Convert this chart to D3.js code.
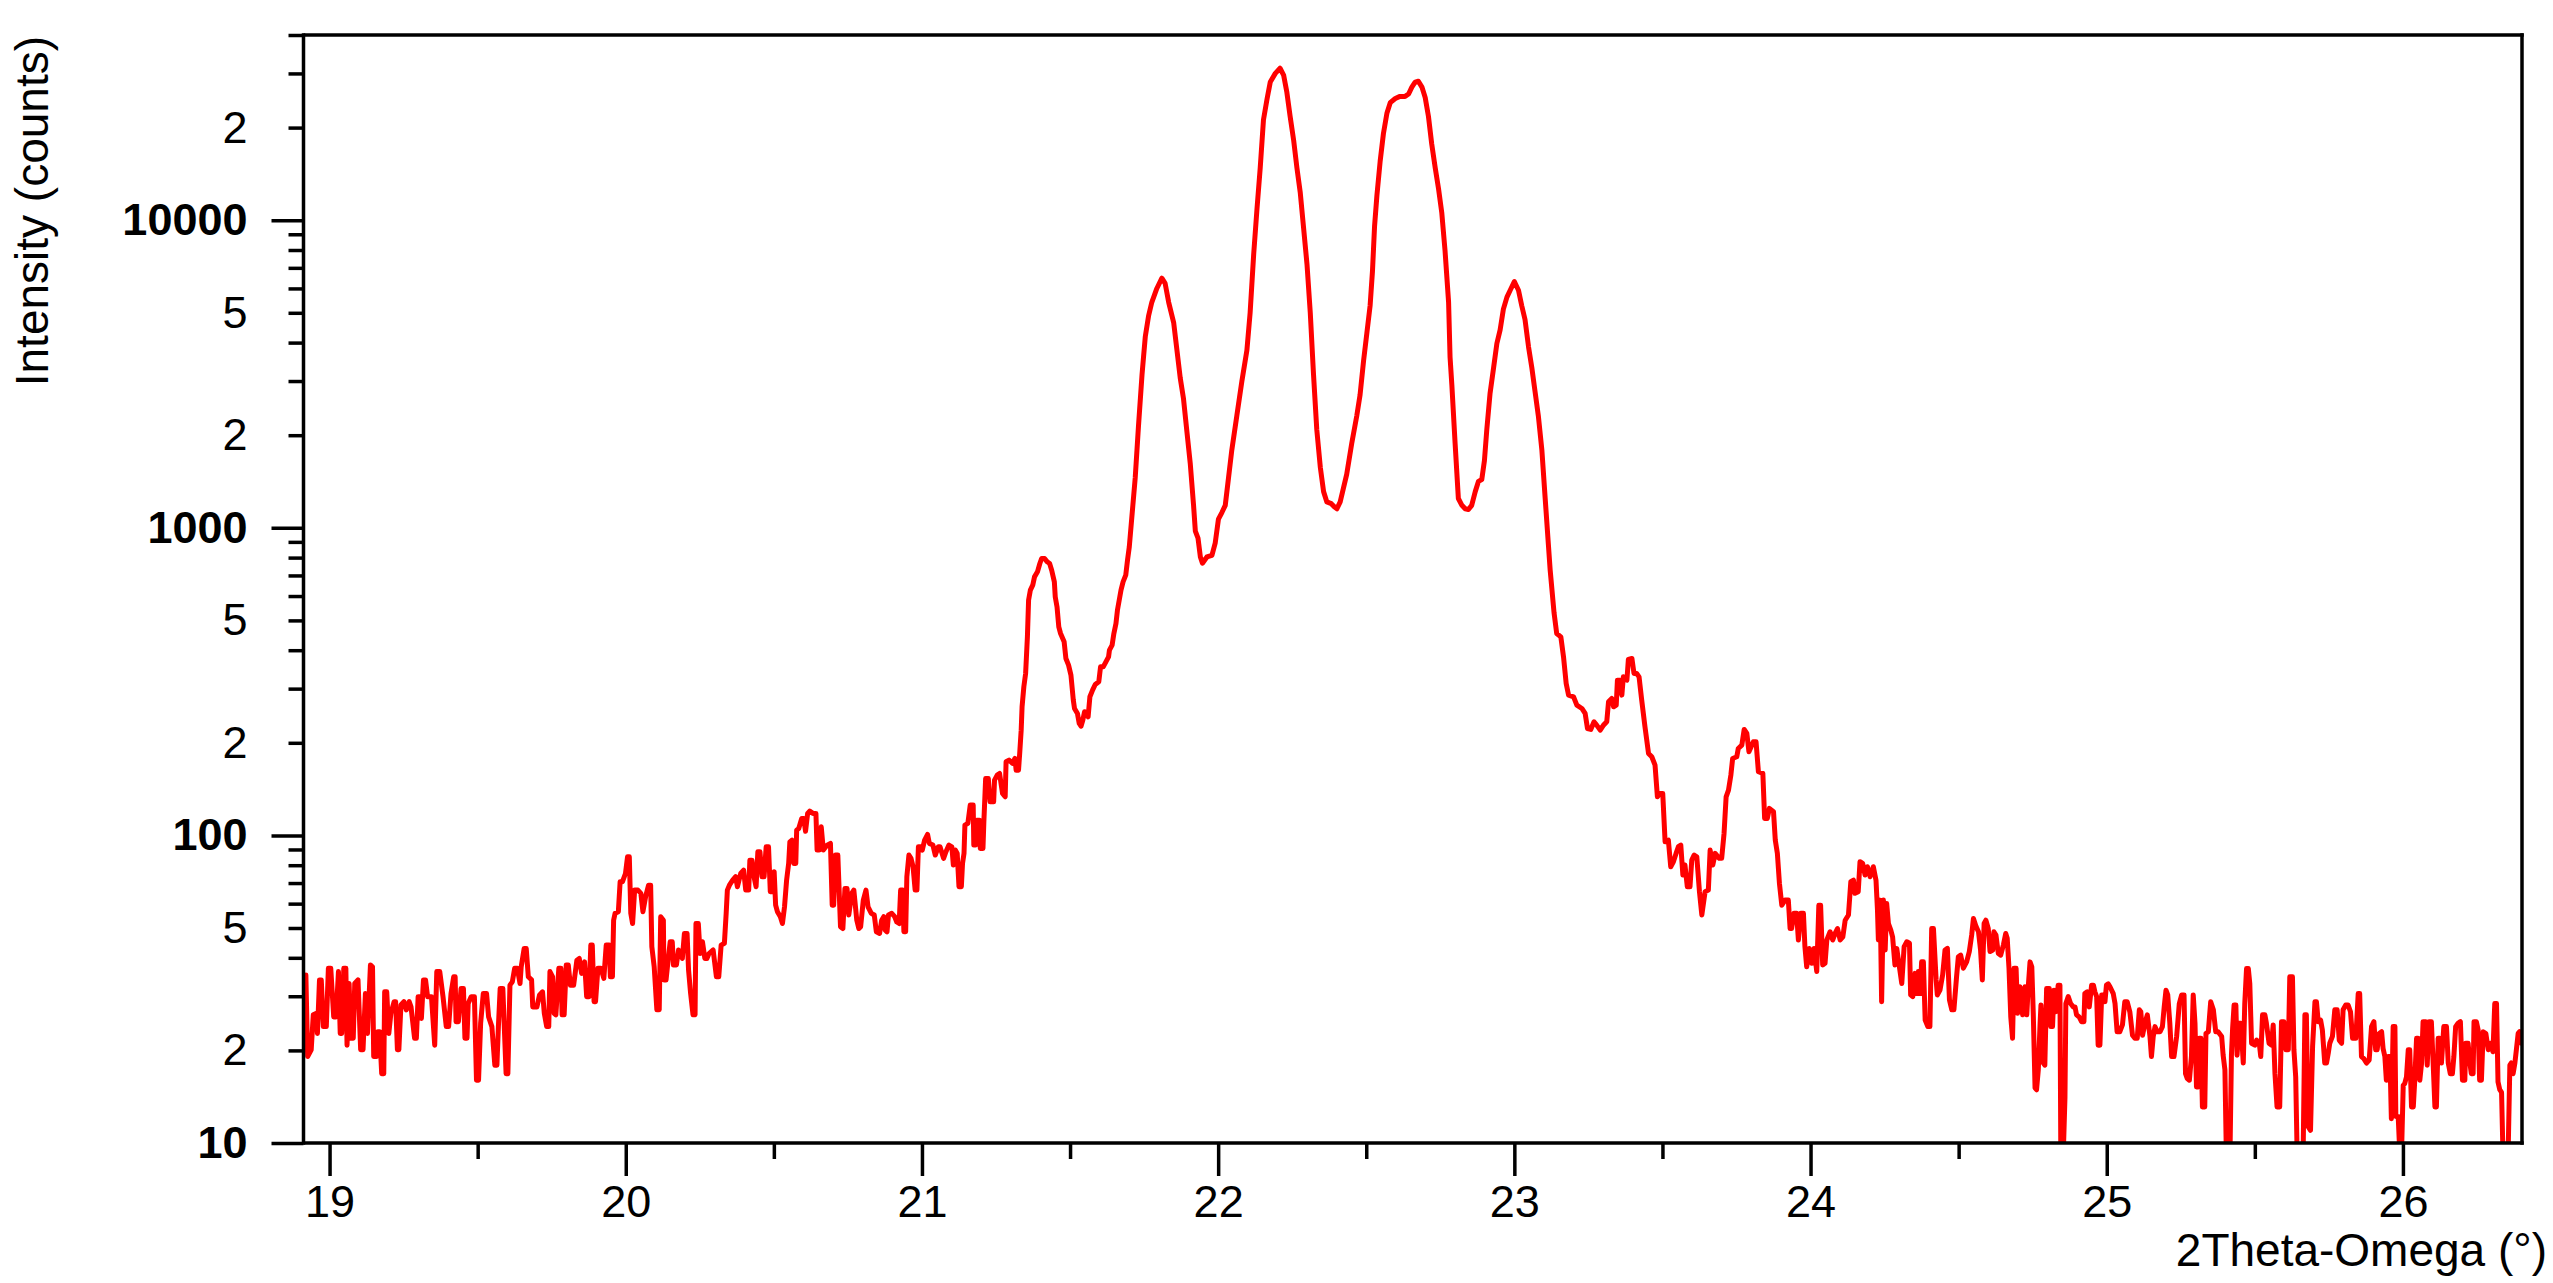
<!DOCTYPE html>
<html>
<head>
<meta charset="utf-8">
<script src="https://cdn.jsdelivr.net/npm/d3@7"></script>
<style>
  html, body { margin: 0; padding: 0; background: #ffffff; }
  svg { display: block; }
</style>
</head>
<body>
<svg id="chart" width="2553" height="1283"></svg>
<script>
// ---------------- data ----------------
const twoTheta = [
  // 18.9 - 21.0
  18.920,18.926,18.938,18.945,18.956,18.959,18.966,18.972,18.979,18.989,
  18.996,19.004,19.014,19.022,19.030,19.036,19.041,19.048,19.055,19.059,
  19.066,19.072,19.080,19.085,19.096,19.105,19.113,19.121,19.128,19.138,
  19.145,19.149,19.158,19.163,19.169,19.176,19.183,19.186,19.193,19.200,
  19.207,19.218,19.223,19.229,19.234,19.241,19.251,19.259,19.269,19.275,
  19.287,19.293,19.299,19.306,19.310,19.317,19.324,19.331,19.344,19.355,
  19.362,19.372,19.383,19.394,19.402,19.410,19.419,19.424,19.427,19.435,
  19.444,19.452,19.457,19.464,19.468,19.478,19.489,19.496,19.503,19.510,
  19.519,19.530,19.537,19.548,19.558,19.565,19.570,19.576,19.585,19.592,
  19.596,19.602,19.609,19.617,19.625,19.634,19.643,19.647,19.657,19.664,
  19.671,19.682,19.686,19.700,19.709,19.719,19.725,19.733,19.740,19.744,
  19.753,19.758,19.764,19.774,19.781,19.785,19.792,19.799,19.806,19.813,
  19.824,19.835,19.843,19.851,19.861,19.868,19.876,19.882,19.887,19.893,
  19.898,19.906,19.916,19.926,19.934,19.944,19.948,19.955,19.959,19.964,
  19.975,19.981,19.989,19.999,20.006,20.012,20.017,20.023,20.030,20.041,
  20.051,20.058,20.067,20.077,20.084,20.088,20.096,20.105,20.113,20.118,
  20.127,20.129,20.136,20.143,20.150,20.157,20.161,20.171,20.178,20.185,
  20.191,20.198,20.207,20.212,20.219,20.227,20.234,20.237,20.245,20.251,
  20.259,20.267,20.274,20.281,20.295,20.306,20.314,20.322,20.333,20.339,
  20.343,20.350,20.361,20.371,20.377,20.388,20.398,20.405,20.415,20.419,
  20.426,20.433,20.440,20.446,20.453,20.460,20.467,20.474,20.482,20.488,
  20.494,20.501,20.506,20.512,20.522,20.529,20.536,20.543,20.550,20.554,
  20.561,20.567,20.574,20.577,20.584,20.594,20.601,20.607,20.614,20.621,
  20.632,20.642,20.646,20.653,20.660,20.667,20.680,20.691,20.697,20.702,
  20.708,20.716,20.725,20.733,20.740,20.747,20.753,20.763,20.770,20.780,
  20.787,20.793,20.802,20.811,20.818,20.829,20.839,20.846,20.857,20.864,
  20.871,20.876,20.882,20.887,20.898,20.908,20.915,20.923,20.928,20.935,
  20.939,20.945,20.949,20.956,20.963,20.970,20.977,20.983,20.988,20.997,
  // 21.0 - 21.7
  21.001,21.009,21.019,21.025,21.037,21.045,21.055,21.061,21.073,21.081,
  21.091,21.101,21.106,21.113,21.119,21.125,21.133,21.137,21.142,21.145,
  21.155,21.163,21.173,21.175,21.181,21.185,21.194,21.197,21.206,21.209,
  21.215,21.224,21.230,21.242,21.245,21.254,21.262,21.272,21.281,21.284,
  21.294,21.306,21.314,21.318,21.326,21.330,21.335,21.338,21.344,21.350,
  21.356,21.360,21.366,21.374,21.380,21.390,21.398,21.404,21.414,21.423,
  21.431,21.438,21.447,21.450,21.456,21.462,21.468,21.480,21.486,21.495,
  21.503,21.511,21.515,21.525,21.531,21.537,21.543,21.549,21.561,21.567,
  21.576,21.585,21.597,21.603,21.612,21.621,21.630,21.633,21.642,21.648,
  21.655,21.660,21.666,21.672,21.679,21.688,21.694,21.700,
  // 21.7 - 23.13
  21.709,21.720,21.731,21.743,21.748,21.754,21.765,21.776,21.793,21.810,
  21.821,21.833,21.850,21.861,21.872,21.883,21.895,21.906,21.917,21.923,
  21.932,21.940,21.947,21.962,21.979,21.990,22.001,22.013,22.024,22.035,
  22.046,22.063,22.080,22.097,22.108,22.120,22.131,22.142,22.153,22.165,
  22.176,22.193,22.209,22.221,22.232,22.243,22.255,22.266,22.277,22.288,
  22.300,22.311,22.322,22.333,22.345,22.356,22.367,22.382,22.393,22.401,
  22.412,22.423,22.434,22.451,22.468,22.479,22.491,22.502,22.513,22.521,
  22.528,22.536,22.547,22.558,22.570,22.581,22.598,22.614,22.631,22.643,
  22.654,22.665,22.676,22.688,22.699,22.710,22.721,22.733,22.744,22.755,
  22.766,22.778,22.783,22.789,22.800,22.811,22.823,22.834,22.845,22.856,
  22.868,22.879,22.890,22.899,22.907,22.918,22.930,22.941,22.952,22.963,
  22.975,22.986,23.000,23.014,23.025,23.036,23.048,23.059,23.070,23.081,
  23.093,23.104,23.115,23.121,23.134,
  // 23.14 - 24.21
  23.143,23.157,23.166,23.175,23.183,23.200,23.211,23.228,23.239,23.247,
  23.258,23.269,23.278,23.290,23.301,23.312,23.318,23.329,23.335,23.344,
  23.348,23.357,23.363,23.368,23.380,23.385,23.397,23.404,23.413,23.421,
  23.430,23.441,23.453,23.464,23.475,23.483,23.492,23.501,23.509,23.520,
  23.528,23.537,23.546,23.554,23.562,23.569,23.576,23.584,23.593,23.599,
  23.607,23.616,23.625,23.633,23.644,23.655,23.661,23.670,23.678,23.692,
  23.700,23.708,23.715,23.723,23.731,23.737,23.751,23.756,23.768,23.776,
  23.785,23.792,23.807,23.816,23.824,23.839,23.845,23.854,23.861,23.875,
  23.881,23.888,23.895,23.903,23.914,23.925,23.931,23.936,23.944,23.953,
  23.959,23.967,23.976,23.981,23.987,23.996,24.004,24.012,24.021,24.028,
  24.034,24.041,24.049,24.055,24.066,24.075,24.083,24.091,24.100,24.109,
  24.117,24.128,24.136,24.145,24.150,24.161,24.167,24.176,24.184,24.192,
  24.201,24.212,
  // 24.22 - 24.78
  24.221,24.226,24.229,24.235,24.240,24.246,24.252,24.257,24.263,24.271,
  24.277,24.285,24.291,24.300,24.308,24.316,24.325,24.334,24.338,24.345,
  24.353,24.358,24.364,24.370,24.375,24.381,24.387,24.396,24.403,24.409,
  24.415,24.424,24.428,24.437,24.446,24.454,24.462,24.469,24.477,24.484,
  24.493,24.499,24.507,24.516,24.527,24.536,24.544,24.550,24.559,24.567,
  24.574,24.580,24.586,24.592,24.600,24.606,24.615,24.619,24.626,24.634,
  24.642,24.651,24.659,24.664,24.670,24.676,24.682,24.687,24.694,24.699,
  24.707,24.716,24.724,24.730,24.735,24.741,24.747,24.752,24.758,24.763,
  24.769,24.775,
  // 24.78 - 26.40
  24.778,24.786,24.791,24.797,24.806,24.811,24.817,24.822,24.828,24.836,
  24.842,24.845,24.853,24.859,24.862,24.870,24.878,24.887,24.893,24.898,
  24.907,24.915,24.923,24.926,24.934,24.941,24.949,24.955,24.960,24.966,
  24.971,24.977,24.983,24.988,24.994,24.999,25.005,25.011,25.022,25.028,
  25.035,25.044,25.053,25.061,25.069,25.078,25.087,25.095,25.103,25.110,
  25.115,25.121,25.129,25.137,25.146,25.151,25.157,25.163,25.170,25.180,
  25.188,25.194,25.200,25.206,25.213,25.219,25.227,25.236,25.245,25.253,
  25.261,25.266,25.272,25.279,25.286,25.292,25.298,25.303,25.309,25.312,
  25.318,25.323,25.331,25.335,25.343,25.351,25.360,25.368,25.376,25.388,
  25.393,25.399,25.404,25.416,25.421,25.425,25.430,25.436,25.440,25.447,
  25.453,25.461,25.466,25.472,25.478,25.483,25.489,25.500,25.506,25.515,
  25.520,25.526,25.534,25.539,25.548,25.556,25.562,25.568,25.575,25.584,
  25.590,25.598,25.605,25.613,25.618,25.627,25.632,25.638,25.643,25.663,
  25.669,25.674,25.680,25.688,25.695,25.703,25.708,25.714,25.722,25.728,
  25.736,25.742,25.748,25.753,25.762,25.770,25.778,25.785,25.793,25.798,
  25.807,25.815,25.823,25.830,25.841,25.849,25.854,25.860,25.868,25.877,
  25.886,25.894,25.902,25.908,25.913,25.920,25.928,25.933,25.939,25.944,
  25.950,25.956,25.961,25.967,25.973,25.976,25.984,25.990,25.995,26.001,
  26.006,26.012,26.018,26.023,26.029,26.035,26.040,26.046,26.051,26.057,
  26.063,26.068,26.077,26.082,26.088,26.096,26.102,26.108,26.113,26.119,
  26.124,26.130,26.138,26.147,26.153,26.160,26.167,26.172,26.178,26.186,
  26.194,26.201,26.209,26.212,26.220,26.226,26.231,26.237,26.240,26.248,
  26.254,26.259,26.265,26.271,26.280,26.288,26.295,26.304,26.310,26.316,
  26.321,26.327,26.333,26.338,26.355,26.361,26.366,26.372,26.378,26.383,
  26.389,26.394,26.400
];

const counts = [
  // 18.9 - 21.0
  35.2,19.1,20.1,26.1,26.4,22.7,33.9,33.9,23.9,23.9,
  37.0,37.0,25.7,25.7,36.1,22.7,22.7,37.0,37.0,20.8,
  33.0,21.9,21.9,33.0,33.9,20.1,20.1,30.6,22.7,37.9,
  37.4,19.1,19.1,23.0,23.0,16.8,16.8,31.0,31.0,22.7,
  26.4,28.8,28.8,20.1,20.1,28.1,28.8,27.1,28.8,27.7,
  21.9,21.9,29.9,29.9,25.4,33.9,33.9,29.9,29.9,20.8,
  36.1,36.1,29.9,23.9,23.9,30.6,34.7,34.7,24.8,24.8,
  31.8,31.8,21.9,21.9,28.4,29.9,29.9,16.0,16.0,24.5,
  30.6,30.6,25.7,23.9,17.9,17.9,23.9,31.8,31.8,21.1,
  16.8,16.8,32.6,33.4,37.0,37.0,33.0,37.4,42.9,42.9,
  34.7,33.9,27.7,27.7,30.3,31.0,26.4,23.9,23.9,36.1,
  34.7,26.4,26.1,37.0,37.0,26.1,26.1,37.9,37.9,32.6,
  32.6,39.3,39.8,35.6,38.8,29.9,29.9,44.0,44.0,28.8,
  28.8,37.0,37.0,34.3,44.0,44.0,34.7,34.7,53.0,55.8,
  56.5,70.7,70.7,75.2,85.2,85.2,55.8,51.7,66.4,66.4,
  64.8,56.5,63.2,68.9,68.9,43.5,37.4,27.1,27.1,54.4,
  53.0,33.9,33.9,39.3,45.1,45.1,37.9,37.9,42.4,41.3,
  39.8,48.0,48.0,36.5,30.6,26.1,26.1,51.7,51.7,41.3,
  45.1,39.8,39.8,41.3,42.4,34.7,34.7,44.0,44.6,55.8,
  66.4,68.9,71.5,73.4,68.1,75.2,77.1,66.4,66.4,83.1,
  83.1,73.4,68.1,88.5,88.5,73.4,73.4,91.8,91.8,65.6,
  65.6,76.2,59.3,56.5,54.4,51.7,58.6,71.5,81.1,95.3,
  96.5,81.1,81.1,104.0,105.3,113.5,113.5,103.1,117.9,119.9,
  117.9,117.9,89.6,89.6,106.6,89.6,93.0,94.2,59.3,59.3,
  86.3,86.3,50.5,49.8,67.2,67.2,55.1,64.8,66.4,53.0,
  49.8,50.5,61.6,66.4,58.6,55.8,55.1,48.6,48.0,53.0,
  54.4,49.2,48.6,55.1,55.8,54.4,52.3,51.7,66.4,66.4,
  48.6,48.6,73.4,86.3,84.2,79.1,66.4,66.4,91.8,91.8,
  // 21.0 - 21.7
  89.6,96.5,100.7,94.2,93.0,86.3,91.8,91.8,84.2,88.5,
  93.0,91.8,80.1,89.6,87.4,68.1,68.1,81.1,87.4,108.0,
  109.4,125.5,125.5,93.0,93.0,112.1,112.1,90.7,90.7,110.7,
  153.1,153.1,128.6,128.6,151.3,157.0,159.0,136.9,133.5,173.5,
  175.7,171.4,177.9,163.0,163.0,184.7,219.9,261.8,304.2,336.0,
  442.0,581.8,626.9,650.9,692.6,719.1,765.5,794.7,794.7,775.2,
  765.5,728.1,667.3,596.5,553.4,476.4,453.3,425.9,376.0,357.6,
  331.9,275.3,258.6,249.1,231.1,226.5,236.9,252.3,243.0,282.3,
  296.7,309.5,315.8,353.2,353.2,366.7,380.7,400.2,415.5,453.3,
  488.7,539.8,581.8,626.9,667.3,701.4,785.1,867.0,
  // 21.7 - 23.13
  1094,1453,2139,3149,3583,4181,4880,5409,5998,6478,
  6232,5409,4634,3772,3069,2629,2032,1611,1183,975,
  926,804,767,804,814,891,1067,1123,1183,1453,
  1786,2312,2990,3772,5007,7759,10846,14776,21200,24740,
  28140,30010,31190,29630,26050,21750,18160,14776,12340,9535,
  7181,5007,3149,2085,1570,1311,1214,1198,1168,1153,
  1214,1345,1492,1880,2312,2698,3491,4290,5272,6823,
  9535,12030,15560,19120,22320,24110,24870,25260,25260,25720,
  27080,28100,28290,27080,25060,21750,17700,14776,12660,10570,
  7961,5409,3583,2914,1880,1245,1183,1153,1147,1183,
  1311,1416,1435,1653,2085,2737,3316,3972,4401,5139,
  5623,5919,6315,5919,5272,4755,3870,3316,2768,2312,
  1786,1250,880,728,530,
  // 23.14 - 24.21
  453.3,442.0,380.6,311.8,285.8,282.2,265.1,258.6,249.1,222.6,
  221.0,234.0,228.3,219.9,228.3,234.0,271.8,278.7,261.8,265.1,
  319.6,319.6,285.8,327.7,319.6,373.2,376.0,336.0,336.0,327.7,
  275.3,225.5,184.7,180.2,169.3,133.5,136.9,136.9,95.3,96.5,
  79.1,82.1,87.4,91.9,93.0,74.3,80.1,68.1,68.1,83.1,
  86.3,85.2,65.6,55.1,65.6,66.4,89.6,80.1,87.4,84.2,
  84.2,101.5,133.5,140.4,157.0,177.9,180.2,191.7,196.6,221.0,
  214.5,187.0,201.5,201.5,161.0,159.0,113.5,113.5,122.4,119.4,
  96.5,87.4,69.8,59.3,61.6,61.6,49.8,49.8,55.8,55.8,
  45.7,55.8,55.8,43.5,37.4,42.9,38.4,42.9,36.1,59.3,
  59.3,37.9,38.4,45.7,48.6,45.7,48.0,49.8,45.7,46.8,
  53.0,55.1,70.7,71.5,64.8,65.6,82.1,81.1,74.3,79.1,
  73.4,79.1,
  // 24.22 - 24.78
  71.5,57.2,45.7,61.6,28.8,61.6,42.4,60.1,51.7,49.2,
  46.8,37.9,42.9,37.4,33.0,43.5,45.1,44.6,30.3,29.9,
  35.6,30.6,36.1,30.6,38.8,38.8,25.1,23.9,23.9,49.8,
  49.8,33.9,30.3,31.4,35.2,42.4,42.9,29.2,27.1,27.1,
  34.7,40.3,40.8,37.0,38.8,41.9,47.4,53.7,50.5,48.6,
  42.4,33.9,51.7,53.0,49.8,41.9,42.4,48.6,47.4,41.3,
  40.8,44.0,48.0,46.3,37.0,25.7,21.9,37.0,37.0,26.4,
  32.2,26.1,32.2,26.1,32.2,38.8,37.4,26.4,15.1,14.9,
  17.3,24.5,
  // 24.78 - 26.40
  28.1,18.2,17.9,31.8,31.8,23.9,23.9,31.4,26.7,32.6,
  32.6,9,9,14.1,28.4,29.9,28.4,27.7,27.7,26.1,
  25.7,24.8,24.8,30.6,31.0,27.7,32.6,32.6,31.0,29.9,
  20.8,20.8,30.3,30.3,28.8,32.6,32.9,32.2,30.6,28.4,
  23.0,23.0,24.2,28.8,28.8,26.7,22.4,21.9,21.9,27.1,
  26.7,22.4,24.5,26.1,22.2,19.1,22.2,23.9,23.0,23.0,
  23.9,27.7,31.4,30.3,24.5,19.1,19.1,22.2,28.4,30.3,
  30.3,16.8,16.2,16.0,19.1,30.3,24.5,15.2,15.2,21.9,
  21.9,13.1,13.1,22.7,23.0,28.8,27.1,23.0,23.0,22.2,
  19.3,17.3,9,9,19.3,23.6,28.1,28.1,19.3,24.5,
  24.5,18.2,28.4,36.9,36.9,33.0,21.1,20.8,21.6,21.1,
  19.1,26.1,26.1,24.5,21.1,20.8,24.2,16.8,13.1,13.1,
  24.8,24.8,20.1,20.1,34.7,34.7,20.1,16.4,9,9,
  26.1,26.1,11.3,11.0,20.6,28.8,28.8,24.8,25.1,23.3,
  18.2,18.2,19.6,21.1,22.2,27.1,27.1,21.6,21.1,27.1,
  28.1,28.1,26.7,21.9,21.9,30.6,30.6,19.1,18.8,18.2,
  18.6,23.9,24.8,20.1,20.1,22.7,23.0,20.3,19.1,16.0,
  19.1,19.1,12.0,23.9,23.9,12.2,12.2,9,9,15.4,
  15.6,16.4,20.1,20.1,13.1,13.1,16.0,21.9,21.9,16.0,
  18.2,24.8,24.8,17.9,24.8,24.8,18.2,13.1,13.1,21.9,
  21.9,18.2,23.9,23.9,18.2,16.8,16.8,19.1,23.9,24.5,
  24.8,16.0,16.0,21.1,21.1,18.2,16.8,16.8,24.8,24.8,
  23.3,16.0,16.0,23.0,22.7,20.1,21.1,19.8,28.4,28.4,
  15.8,14.9,14.6,9,9,17.9,18.2,16.8,18.2,20.1,
  22.7,23.0,21.1
];

const xDomain = [18.912, 26.402];
const yDomain = [10, 40000];
const xMajorTicks = [19, 20, 21, 22, 23, 24, 25, 26];
const xMinorTicks = [19.5, 20.5, 21.5, 22.5, 23.5, 24.5, 25.5];
const yMajorTicks = [10, 100, 1000, 10000];
const yMinorTicks = [20, 30, 40, 50, 60, 70, 80, 90,
                     200, 300, 400, 500, 600, 700, 800, 900,
                     2000, 3000, 4000, 5000, 6000, 7000, 8000, 9000,
                     20000, 30000, 40000];
const yMinorLabelled = [20, 50, 200, 500, 2000, 5000, 20000];
const xTitle = "2Theta-Omega (°)";
const yTitle = "Intensity (counts)";

// ---------------- drawing ----------------
(function draw() {
  if (twoTheta.length !== counts.length) console.error("length mismatch", twoTheta.length, counts.length);
  const points = twoTheta.map((t, i) => ({ t: t, c: counts[i] }));

  const W = 2553, H = 1283;
  const padL = 303.5, padR = 2522, padT = 35, padB = 1143;
  const FONT = "'Liberation Sans', Arial, Helvetica, sans-serif";
  const AX = 3.5;

  const svg = d3.select("#chart");
  svg.append("rect").attr("width", W).attr("height", H).attr("fill", "#ffffff");

  const x = d3.scaleLinear().domain(xDomain).range([padL, padR]);
  const y = d3.scaleLog().domain(yDomain).range([padB, padT]);

  svg.append("defs").append("clipPath").attr("id", "plotclip")
    .append("rect").attr("x", padL).attr("y", padT)
    .attr("width", padR - padL).attr("height", padB - padT);

  const line = d3.line().x(d => x(d.t)).y(d => y(d.c));
  svg.append("path")
    .datum(points)
    .attr("clip-path", "url(#plotclip)")
    .attr("fill", "none")
    .attr("stroke", "#ff0000")
    .attr("stroke-width", 5)
    .attr("stroke-linejoin", "round")
    .attr("stroke-linecap", "round")
    .attr("d", line);

  function styleAxis(g, fontSize, weight) {
    g.select(".domain").remove();
    g.selectAll(".tick line").attr("stroke", "#000").attr("stroke-width", AX);
    g.selectAll(".tick text")
      .attr("fill", "#000")
      .attr("font-family", FONT)
      .attr("font-size", fontSize)
      .attr("font-weight", weight);
  }

  svg.append("g")
    .attr("transform", `translate(${padL},0)`)
    .call(d3.axisLeft(y).tickValues(yMinorTicks).tickSize(15).tickPadding(41)
      .tickFormat(d => yMinorLabelled.includes(d) ? String(d).charAt(0) : ""))
    .call(g => styleAxis(g, 45, "normal"));

  svg.append("g")
    .attr("transform", `translate(${padL},0)`)
    .call(d3.axisLeft(y).tickValues(yMajorTicks).tickSize(32).tickPadding(24)
      .tickFormat(d3.format("d")))
    .call(g => styleAxis(g, 45, "bold"));

  svg.append("g")
    .attr("transform", `translate(0,${padB})`)
    .call(d3.axisBottom(x).tickValues(xMinorTicks).tickSize(16).tickFormat(""))
    .call(g => styleAxis(g, 45, "normal"));

  svg.append("g")
    .attr("transform", `translate(0,${padB})`)
    .call(d3.axisBottom(x).tickValues(xMajorTicks).tickSize(33).tickPadding(9)
      .tickFormat(d3.format("d")))
    .call(g => styleAxis(g, 45, "normal"));

  const frame = svg.append("g").attr("stroke", "#000").attr("stroke-width", AX).attr("fill", "none");
  frame.append("line").attr("x1", padL).attr("x2", padL).attr("y1", padT - AX / 2).attr("y2", padB + AX / 2);
  frame.append("line").attr("x1", padR).attr("x2", padR).attr("y1", padT - AX / 2).attr("y2", padB + AX / 2);
  frame.append("line").attr("x1", padL).attr("x2", padR + AX / 2).attr("y1", padT).attr("y2", padT);
  frame.append("line").attr("x1", padL).attr("x2", padR + AX / 2).attr("y1", padB).attr("y2", padB);

  svg.append("text")
    .attr("x", 2547).attr("y", 1266)
    .attr("text-anchor", "end")
    .attr("font-family", FONT).attr("font-size", 46).attr("fill", "#000")
    .text(xTitle);

  svg.append("text")
    .attr("transform", "translate(48,36) rotate(-90)")
    .attr("text-anchor", "end")
    .attr("font-family", FONT).attr("font-size", 46).attr("fill", "#000")
    .text(yTitle);
})();
</script>
</body>
</html>
